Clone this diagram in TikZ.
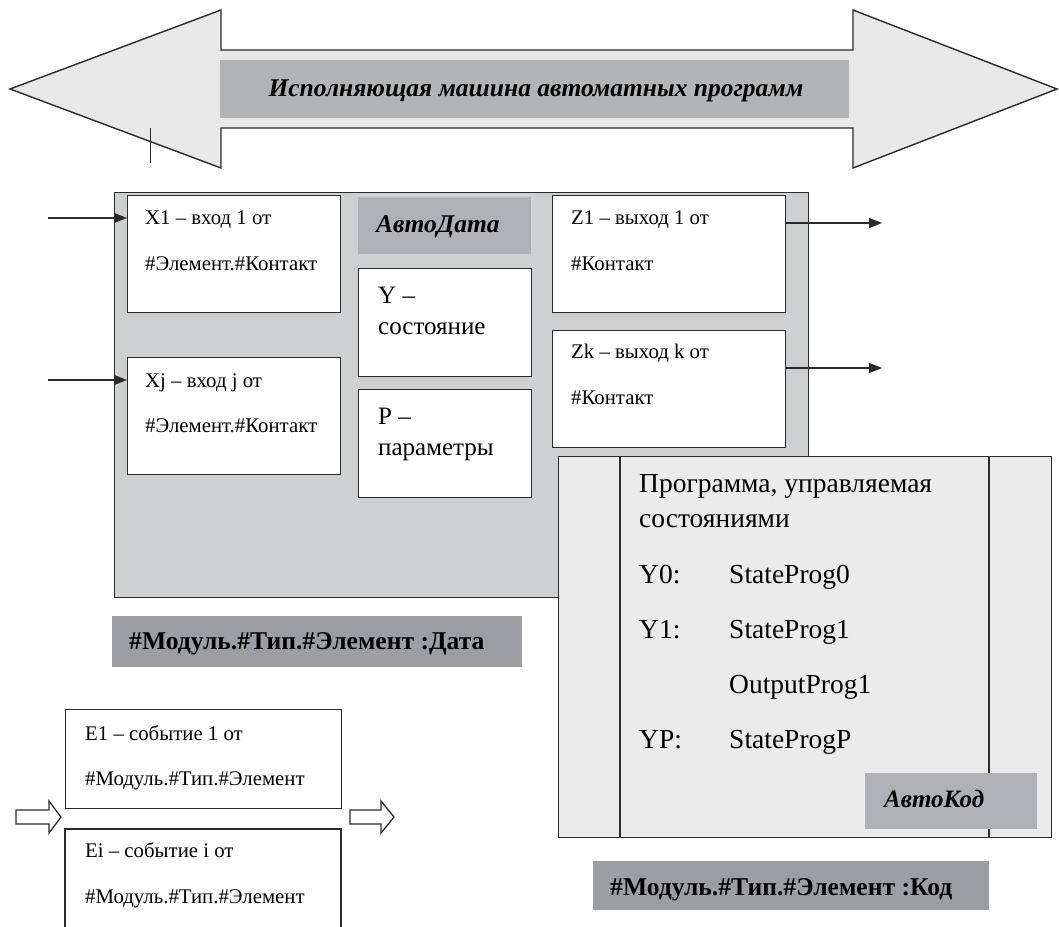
\documentclass[tikz,border=0pt]{standalone}
\usepackage{fontspec}
\setmainfont{Liberation Serif}
\usetikzlibrary{arrows.meta}
\definecolor{ink}{HTML}{2B2B2B}
\definecolor{arrowfill}{HTML}{E8E8E9}
\definecolor{titlefill}{HTML}{B3B4B6}
\definecolor{datafill}{HTML}{CFD0D2}
\definecolor{tagfill}{HTML}{B0B1B4}
\definecolor{codefill}{HTML}{EBEBEC}
\definecolor{namefill}{HTML}{9D9EA1}
\tikzset{
  outline/.style={draw=ink, line width=1.4pt},
  portbox/.style={outline, fill=white, anchor=north west, inner sep=0pt},
  tagbox/.style={fill=tagfill, anchor=north west, inner sep=0pt},
  namebox/.style={fill=namefill, anchor=north west, inner sep=0pt},
  small/.style={anchor=base west, inner sep=0pt, font=\fontsize{20.8}{25}\selectfont},
  evtext/.style={anchor=base west, inner sep=0pt, font=\fontsize{20.8}{25}\selectfont},
  mid/.style={anchor=base west, inner sep=0pt, font=\fontsize{25}{30}\selectfont},
  prog/.style={anchor=base west, inner sep=0pt, font=\fontsize{27.5}{33}\selectfont},
  tagtext/.style={anchor=base west, inner sep=0pt, font=\fontsize{25.5}{30}\selectfont\bfseries\itshape},
  nametext/.style={anchor=base west, inner sep=0pt, font=\fontsize{25.6}{30}\selectfont\bfseries},
  wire/.style={draw=ink, line width=1.3pt, -{Triangle[length=13pt,width=10pt]}},
  hollow/.style={draw=ink, line width=1.3pt, fill=white, line join=miter},
}
\begin{document}
\begin{tikzpicture}[x=1pt, y=-1pt]
\useasboundingbox (0,0) rectangle (1059,926);

% double-headed banner arrow
\draw[outline, fill=arrowfill, line join=miter]
  (10,89) -- (221,10) -- (221,50) -- (853,50) -- (853,10) -- (1057,89)
  -- (853,168) -- (853,128) -- (221,128) -- (221,168) -- cycle;
\fill[titlefill] (220,60) rectangle (849,118);
\node[anchor=base, inner sep=0pt, font=\fontsize{25.5}{30}\selectfont\bfseries\itshape]
  (title) at (536,96) {Исполняющая машина автоматных программ};
\draw[ink, line width=1pt] (150,128) -- (150,163);

% data block
\node[outline, fill=datafill, anchor=north west, inner sep=0pt,
  minimum width=694pt, minimum height=405pt] (data) at (114,192) {};

\node[portbox, minimum width=213pt, minimum height=117pt] (x1) at (127,195) {};
\node[portbox, minimum width=213pt, minimum height=117pt] (xj) at (127,357) {};
\node[small] (x1a) at (145,224) {X1 – вход 1 от};
\node[small] (x1b) at (145,270) {\#Элемент.\#Контакт};
\node[small] (xja) at (145,387) {Xj – вход j от};
\node[small] (xjb) at (145,432) {\#Элемент.\#Контакт};

\node[tagbox, minimum width=173pt, minimum height=57pt] (adtag) at (358,197) {};
\node[tagtext] (adtext) at (376,232) {АвтоДата};

\node[portbox, minimum width=173pt, minimum height=108pt] (ybox) at (358,268) {};
\node[mid] (ya) at (378,303) {Y –};
\node[mid] (yb) at (378,334) {состояние};
\node[portbox, minimum width=173pt, minimum height=108pt] (pbox) at (358,389) {};
\node[mid] (pa) at (378,424) {P –};
\node[mid] (pb) at (378,455) {параметры};

\node[portbox, minimum width=233pt, minimum height=117pt] (z1) at (552,195) {};
\node[portbox, minimum width=233pt, minimum height=117pt] (zk) at (552,330) {};
\node[small] (z1a) at (571,224) {Z1 – выход 1 от};
\node[small] (z1b) at (571,270) {\#Контакт};
\node[small] (zka) at (571,358) {Zk – выход k от};
\node[small] (zkb) at (571,404) {\#Контакт};

% input and output connectors
\coordinate (in1) at (48,218);
\coordinate (inj) at (48,380);
\coordinate (out1) at (882,223);
\coordinate (outk) at (882,368);
\draw[wire] (in1) -- (x1.west |- in1);
\draw[wire] (inj) -- (xj.west |- inj);
\draw[wire] (z1.east |- out1) -- (out1);
\draw[wire] (zk.east |- outk) -- (outk);

\node[namebox, minimum width=410pt, minimum height=51pt] (dname) at (112,616) {};
\node[nametext] (dnametext) at (129,649) {\#Модуль.\#Тип.\#Элемент :Дата};

% code block
\node[outline, fill=codefill, anchor=north west, inner sep=0pt,
  minimum width=493pt, minimum height=381pt] (code) at (558,456) {};
\draw[ink, line width=1.4pt] (620,456) -- (620,837);
\draw[ink, line width=1.4pt] (989,456) -- (989,837);
\node[prog] (p1) at (639,492) {Программа, управляемая};
\node[prog] (p2) at (639,527) {состояниями};
\node[prog] (s0l) at (639,583) {Y0:};
\node[prog] (s0r) at (729,583) {StateProg0};
\node[prog] (s1l) at (639,638) {Y1:};
\node[prog] (s1r) at (729,638) {StateProg1};
\node[prog] (o1) at (729,693) {OutputProg1};
\node[prog] (spl) at (639,748) {YP:};
\node[prog] (spr) at (729,748) {StateProgP};

\node[tagbox, minimum width=172pt, minimum height=56pt] (actag) at (865,773) {};
\node[tagtext, font=\fontsize{25}{30}\selectfont\bfseries\itshape] (actext) at (884,807) {АвтоКод};

\node[namebox, minimum width=396pt, minimum height=49pt] (cname) at (593,861) {};
\node[nametext] (cnametext) at (610,895) {\#Модуль.\#Тип.\#Элемент :Код};

% event ports
\node[portbox, minimum width=276pt, minimum height=99pt] (e1) at (65,709) {};
\draw[outline] (65,927) -- (65,829) -- (341,829) -- (341,927);
\coordinate (ei) at (65,829);
\node[evtext] (e1a) at (85,740) {E1 – событие 1 от};
\node[evtext] (e1b) at (85,785) {\#Модуль.\#Тип.\#Элемент};
\node[evtext] (eia) at (85,857) {Ei – событие i от};
\node[evtext] (eib) at (85,903) {\#Модуль.\#Тип.\#Элемент};

% hollow event arrows
\draw[hollow] (16,810) -- (49,810) -- (49,801) -- (61,817) -- (49,833) -- (49,824) -- (16,824) -- cycle;
\draw[hollow] (350,810) -- (381,810) -- (381,801) -- (394,817) -- (381,833) -- (381,824) -- (350,824) -- cycle;
\end{tikzpicture}
\end{document}
